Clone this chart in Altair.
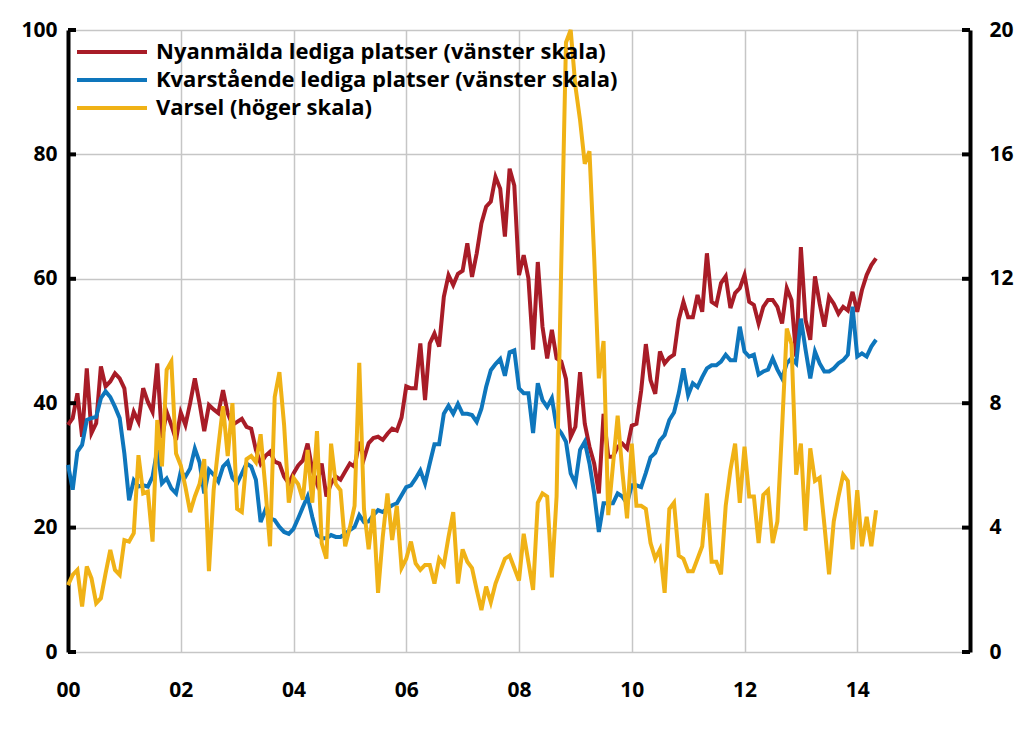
import altair as alt
import pandas as pd

# ---- Data (monthly, Jan 2000 - May 2014) ----
# Nyanmälda lediga platser (left scale, thousands)
red_2000 = [36.5, 37.6, 41.6, 34.6, 45.6, 35.2, 36.8, 45.9, 42.7, 43.5, 44.8, 44.0]
red_2001 = [42.4, 35.7, 38.6, 37.0, 42.4, 40.2, 38.6, 46.4, 34.4, 38.6, 36.5, 34.1]
red_2002 = [38.5, 36.5, 40.0, 44.0, 40.0, 35.5, 39.7, 39.0, 38.4, 42.1, 38.4, 36.5]
red_2003 = [37.0, 37.5, 36.2, 35.9, 32.5, 30.3, 31.5, 32.2, 30.6, 30.3, 28.2, 27.1]
red_2004 = [28.7, 30.0, 30.8, 33.5, 29.3, 27.1, 30.3, 25.0, 27.1, 28.2, 27.7, 29.0]
red_2005 = [30.3, 29.8, 33.8, 31.1, 33.6, 34.4, 34.6, 34.1, 35.1, 35.9, 35.6, 37.7]
red_2006 = [42.7, 42.4, 42.4, 49.6, 40.5, 49.6, 51.2, 49.1, 57.1, 60.6, 59.0, 60.8]
red_2007 = [61.3, 65.7, 60.3, 64.1, 68.9, 71.6, 72.4, 76.4, 74.5, 66.8, 77.7, 75.0]
red_2008 = [60.6, 63.8, 60.1, 48.6, 62.7, 52.3, 47.2, 51.8, 47.2, 46.7, 43.9, 34.6]
red_2009 = [36.2, 45.0, 36.7, 33.0, 30.3, 25.5, 38.3, 31.4, 31.4, 33.0, 33.5, 32.7]
red_2010 = [36.4, 36.7, 42.0, 49.5, 43.7, 41.5, 48.3, 46.4, 47.3, 47.8, 53.4, 56.3]
red_2011 = [53.8, 53.8, 57.4, 54.7, 64.1, 56.3, 55.8, 59.3, 60.4, 55.3, 57.7, 58.5]
red_2012 = [60.6, 56.3, 55.8, 52.8, 55.5, 56.6, 56.6, 55.5, 52.8, 58.5, 56.6, 47.5]
red_2013 = [65.1, 53.4, 50.2, 60.4, 56.0, 52.3, 57.1, 56.0, 54.4, 55.5, 54.9, 57.9]
red_2014 = [54.7, 58.2, 60.6, 62.2, 63.3]

# Kvarstående lediga platser (left scale)
blue_2000 = [30.1, 26.1, 32.2, 33.3, 37.3, 37.6, 37.8, 40.8, 41.9, 41.0, 39.4, 37.6]
blue_2001 = [31.9, 24.4, 27.6, 26.6, 26.8, 26.6, 28.2, 32.5, 27.1, 27.9, 26.3, 25.5]
blue_2002 = [29.0, 28.2, 29.5, 32.7, 30.5, 25.5, 29.3, 28.5, 27.4, 29.8, 30.6, 28.0]
blue_2003 = [27.1, 28.7, 30.3, 29.8, 27.7, 20.9, 22.8, 21.5, 21.2, 20.1, 19.3, 19.0]
blue_2004 = [19.8, 21.5, 23.3, 25.0, 21.7, 18.8, 18.3, 18.3, 18.8, 18.5, 18.5, 19.0]
blue_2005 = [19.6, 20.1, 22.0, 20.9, 21.0, 22.0, 22.8, 22.5, 23.1, 23.6, 23.9, 25.2]
blue_2006 = [26.5, 26.8, 27.9, 29.2, 27.1, 30.3, 33.4, 33.4, 38.3, 39.6, 38.3, 39.9]
blue_2007 = [38.3, 38.3, 38.1, 37.0, 39.1, 42.6, 45.3, 46.3, 47.1, 44.4, 48.2, 48.5]
blue_2008 = [42.4, 41.6, 41.6, 35.2, 43.2, 40.5, 39.4, 40.8, 36.2, 35.2, 33.8, 28.7]
blue_2009 = [27.1, 32.5, 33.8, 30.3, 25.5, 19.3, 23.9, 23.9, 23.9, 25.5, 25.0, 23.9]
blue_2010 = [26.8, 26.8, 26.5, 28.8, 31.3, 32.0, 34.0, 34.9, 37.3, 38.5, 41.6, 45.6]
blue_2011 = [41.3, 43.2, 42.6, 44.2, 45.6, 46.1, 46.1, 46.7, 47.8, 46.9, 46.9, 52.3]
blue_2012 = [48.3, 47.5, 47.8, 44.6, 45.1, 45.4, 47.2, 45.4, 44.0, 46.4, 47.2, 46.4]
blue_2013 = [53.6, 48.6, 44.0, 48.3, 46.4, 45.1, 45.1, 45.6, 46.4, 46.9, 47.8, 55.5]
blue_2014 = [47.5, 48.0, 47.5, 49.1, 50.2]

# Varsel (right scale)
yel_2000 = [2.15, 2.48, 2.64, 1.46, 2.75, 2.37, 1.57, 1.73, 2.53, 3.28, 2.64, 2.48]
yel_2001 = [3.60, 3.55, 3.82, 6.33, 5.10, 5.16, 3.55, 7.46, 5.97, 9.07, 9.34, 6.38]
yel_2002 = [6.0, 5.3, 4.5, 5.0, 5.4, 6.2, 2.6, 5.2, 6.6, 7.9, 6.3, 8.0]
yel_2003 = [4.6, 4.5, 6.2, 6.3, 6.1, 7.0, 5.3, 3.4, 8.2, 9.0, 7.3, 4.8]
yel_2004 = [5.6, 5.4, 4.9, 6.5, 4.8, 7.1, 3.5, 3.0, 6.7, 5.4, 5.2, 3.4]
yel_2005 = [4.0, 4.7, 9.3, 4.6, 3.3, 4.6, 1.9, 3.7, 5.1, 3.6, 4.7, 2.7]
yel_2006 = [3.0, 3.55, 2.85, 2.64, 2.8, 2.8, 2.2, 3.0, 2.8, 3.7, 4.5, 2.2]
yel_2007 = [3.3, 2.9, 2.7, 2.0, 1.35, 2.1, 1.6, 2.2, 2.6, 3.0, 3.1, 2.7]
yel_2008 = [2.3, 3.8, 2.9, 2.0, 4.8, 5.1, 5.0, 2.4, 5.0, 12.5, 19.6, 20.0]
yel_2009 = [18.2, 17.1, 15.7, 16.1, 12.7, 8.8, 10.0, 4.4, 6.0, 7.6, 5.8, 4.3]
yel_2010 = [6.7, 4.7, 4.7, 4.6, 3.5, 3.0, 3.3, 1.9, 4.6, 4.8, 3.1, 3.0]
yel_2011 = [2.6, 2.6, 3.0, 3.4, 5.1, 2.9, 2.9, 2.5, 4.7, 5.85, 6.7, 4.8]
yel_2012 = [6.6, 5.0, 5.0, 3.5, 5.05, 5.2, 3.5, 4.2, 7.2, 10.4, 9.9, 5.7]
yel_2013 = [6.7, 3.9, 6.55, 5.5, 5.6, 4.1, 2.5, 4.2, 5.0, 5.7, 5.5, 3.3]
yel_2014 = [5.2, 3.4, 4.35, 3.4, 4.56]

series_names = [
    "Nyanmälda lediga platser (vänster skala)",
    "Kvarstående lediga platser (vänster skala)",
    "Varsel (höger skala)",
]
series_colors = ["#A81C27", "#0E76BC", "#F0B216"]

x_tick_values = [2000, 2002, 2004, 2006, 2008, 2010, 2012, 2014]
left_ticks = [0, 20, 40, 60, 80, 100]
right_ticks = [0, 4, 8, 12, 16, 20]

# ---- Build tables ----
red = (red_2000 + red_2001 + red_2002 + red_2003 + red_2004 + red_2005 + red_2006 +
       red_2007 + red_2008 + red_2009 + red_2010 + red_2011 + red_2012 + red_2013 + red_2014)
blue = (blue_2000 + blue_2001 + blue_2002 + blue_2003 + blue_2004 + blue_2005 + blue_2006 +
        blue_2007 + blue_2008 + blue_2009 + blue_2010 + blue_2011 + blue_2012 + blue_2013 + blue_2014)
yel = (yel_2000 + yel_2001 + yel_2002 + yel_2003 + yel_2004 + yel_2005 + yel_2006 +
       yel_2007 + yel_2008 + yel_2009 + yel_2010 + yel_2011 + yel_2012 + yel_2013 + yel_2014)

n = min(len(red), len(blue), len(yel))
t = [2000 + i / 12 for i in range(n)]
df_red = pd.DataFrame({"t": t, "v": red[:n], "series": series_names[0]})
df_blue = pd.DataFrame({"t": t, "v": blue[:n], "series": series_names[1]})
df_yel = pd.DataFrame({"t": t, "v": yel[:n], "series": series_names[2]})
ticks_df = pd.DataFrame({"v": left_ticks})

W, H = 902, 622
FONT = "Open Sans"
GRID = "#C6C6C6"
LW = 4

color_scale = alt.Scale(domain=series_names, range=series_colors)

x_enc = alt.X(
    "t:Q",
    scale=alt.Scale(domain=[2000, 2016], nice=False, zero=False),
    axis=alt.Axis(
        values=x_tick_values,
        labelExpr="format(datum.value - 2000, '02d')",
        labelFlush=False,
        grid=True, gridColor=GRID, gridWidth=1.5,
        domain=False, ticks=False,
        labelPadding=27, labelFontSize=21, labelFontWeight="bold",
        labelFont=FONT, labelColor="black", title=None,
    ),
)

left_scale = alt.Scale(domain=[0, 100], nice=False, zero=True)
right_scale = alt.Scale(domain=[0, 20], nice=False, zero=True)

legend = alt.Legend(
    orient="none", legendX=5, legendY=11, title=None,
    symbolType="M-1,0H9", symbolSize=196, symbolStrokeWidth=4,
    labelFontSize=22, labelFontWeight="bold", labelFont=FONT,
    labelColor="black", labelLimit=800, labelOffset=61, rowPadding=6,
)
color_enc = alt.Color("series:N", scale=color_scale, legend=legend)

red_layer = alt.Chart(df_red).mark_line(strokeWidth=LW).encode(
    x=x_enc,
    y=alt.Y("v:Q", scale=left_scale, axis=alt.Axis(
        values=left_ticks, orient="left", grid=True, gridColor=GRID, gridWidth=1.5,
        domain=True, domainColor="black", domainWidth=4, ticks=False,
        labelPadding=11, labelFontSize=21, labelFontWeight="bold",
        labelFont=FONT, labelColor="black", title=None,
    )),
    color=color_enc,
)

blue_layer = alt.Chart(df_blue).mark_line(strokeWidth=LW).encode(
    x=x_enc,
    y=alt.Y("v:Q", scale=left_scale, axis=None),
    color=color_enc,
)

yel_layer = alt.Chart(df_yel).mark_line(strokeWidth=LW).encode(
    x=x_enc,
    y=alt.Y("v:Q", scale=right_scale, axis=alt.Axis(
        values=right_ticks, orient="right", grid=False,
        domain=True, domainColor="black", domainWidth=4, ticks=False,
        labelPadding=19, labelFontSize=21, labelFontWeight="bold",
        labelFont=FONT, labelColor="black", title=None,
    )),
    color=color_enc,
)

# inner tick marks on both value axes
left_tick_layer = alt.Chart(ticks_df).mark_rule(color="black", strokeWidth=4).encode(
    y=alt.Y("v:Q", scale=left_scale, axis=None),
    x=alt.value(0), x2=alt.value(8),
)
right_tick_layer = alt.Chart(ticks_df).mark_rule(color="black", strokeWidth=4).encode(
    y=alt.Y("v:Q", scale=left_scale, axis=None),
    x=alt.value(W - 8), x2=alt.value(W),
)

chart = alt.layer(
    red_layer, blue_layer, yel_layer, left_tick_layer, right_tick_layer
).resolve_scale(
    y="independent"
).properties(
    width=W, height=H,
    autosize=alt.AutoSizeParams(type="none"),
    padding={"left": 60, "top": 22, "right": 46, "bottom": 70},
).configure_view(
    stroke=None
).configure(
    background="white"
)

chart.save("out.html", embed_options={"renderer": "svg", "actions": False})
